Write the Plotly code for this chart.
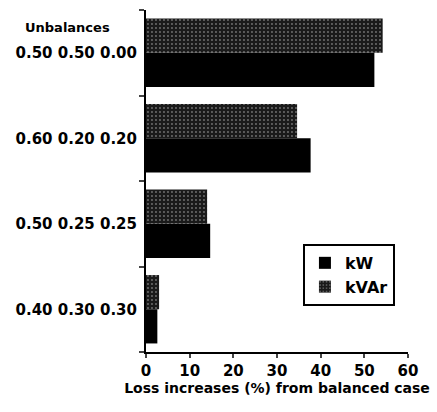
import plotly.graph_objects as go

categories = ["0.50 0.50 0.00", "0.60 0.20 0.20", "0.50 0.25 0.25", "0.40 0.30 0.30"]
kw_values = [52.3, 37.7, 14.7, 2.6]
kvar_values = [54.2, 34.6, 14.0, 3.0]
x_ticks = [0, 10, 20, 30, 40, 50, 60]

FONT = "DejaVu Sans"

fig = go.Figure()
fig.add_trace(go.Bar(
    y=categories, x=kw_values, orientation="h", name="kW",
    marker=dict(color="black", line=dict(width=0)),
))
fig.add_trace(go.Bar(
    y=categories, x=kvar_values, orientation="h", name="kVAr",
    marker=dict(color="#1a1a1a", line=dict(width=0),
                pattern=dict(shape=".", fgcolor="#c8c8c8", bgcolor="#1a1a1a",
                             size=4, solidity=0.18)),
))

fig.update_layout(
    width=437, height=412,
    margin=dict(l=146, r=29, t=10, b=60, autoexpand=False),
    paper_bgcolor="white", plot_bgcolor="white",
    barmode="group", bargap=0.2, bargroupgap=0,
    font=dict(family=FONT, color="black", size=14, weight="bold"),
    showlegend=True,
    legend=dict(x=0.599, y=0.316, xanchor="left", yanchor="top",
                bordercolor="black", borderwidth=2, bgcolor="white",
                font=dict(size=16, family=FONT, weight="bold"),
                itemwidth=30, tracegroupgap=0),
    xaxis=dict(range=[0, 60], tickvals=x_ticks, ticks="outside", ticklen=4,
               tickwidth=2, showline=True, linecolor="black", linewidth=2,
               showgrid=False, zeroline=False, automargin=False,
               tickfont=dict(size=15, family=FONT, weight="bold"),
               title=dict(text="Loss increases (%) from balanced case",
                          font=dict(size=14, family=FONT, weight="bold"),
                          standoff=4)),
    yaxis=dict(type="category", categoryorder="array",
               categoryarray=list(reversed(categories)),
               tickson="boundaries", ticks="outside", ticklen=5, tickwidth=2,
               showline=True, linecolor="black", linewidth=2, showgrid=False,
               automargin=False,
               tickfont=dict(size=15, family=FONT, weight="bold"),
               ticklabelstandoff=4),
    annotations=[dict(text="Unbalances", xref="paper", yref="paper",
                      x=-0.128, y=0.95, xanchor="right", yanchor="middle",
                      showarrow=False,
                      font=dict(size=13, family=FONT, weight="bold"))],
)

fig.write_html("out.html",
               config={"displayModeBar": False},
               post_script="document.body.style.margin='0';document.body.style.padding='0';")
